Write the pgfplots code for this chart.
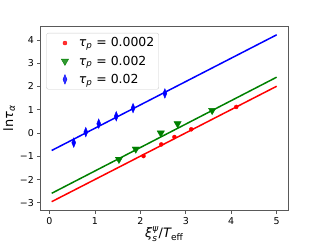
\documentclass[border=0pt]{standalone}
\usepackage{amsmath}
\usepackage{fontspec}
\setmainfont{DejaVu Sans}
\usepackage{pgfplots}
\pgfplotsset{compat=1.18}
\definecolor{mplgreen}{rgb}{0,0.5,0}
\pgfplotsset{mylegimg/.style={legend image code/.code={
  \path[draw=none,fill=none] (0bp,0bp) -- (28bp,0bp);
  \draw[##1,only marks] plot coordinates {(16bp,0bp)};}}}
\begin{document}
\begin{tikzpicture}
\begin{axis}[
  at={(0,0)}, anchor=south west,
  scale only axis, width=248bp, height=185bp,
  xmin=-0.2, xmax=5.25, ymin=-3.34, ymax=4.6,
  axis line style={black!65, line width=0.7bp},
  tick align=outside, tick pos=left,
  major tick length=3bp,
  every tick/.style={black!65, line width=0.7bp},
  xtick={0,1,2,3,4,5},
  xticklabels={0,1,2,3,4,5},
  ytick={-3,-2,-1,0,1,2,3,4},
  yticklabels={−3,−2,−1,0,1,2,3,4},
  tick label style={font=\fontsize{9.5}{11}\selectfont},
  xlabel={$\text{\itshape ξ}^{\text{\itshape ψ}}_{\text{\itshape s}}\text{/}\text{\itshape T}_{\text{eff}}$},
  ylabel={ln{\itshape τ\textsubscript{α}}},
  label style={font=\fontsize{13}{15}\selectfont},
  xlabel style={yshift=5pt},
  ylabel style={yshift=-2pt},
  legend style={at={(0.024,0.962)}, anchor=north west, draw=black!20,
    rounded corners=2pt, fill=white, fill opacity=0.8, text opacity=1,
    font=\fontsize{12.5}{14}\selectfont, row sep=3.5pt, inner sep=2.5pt},
  legend cell align=left,
]
\addplot[color=red, line width=1.5bp, forget plot] coordinates {(0.05,-2.95) (5,2.01)};
\addplot[color=mplgreen, line width=1.5bp, forget plot] coordinates {(0.05,-2.59) (5,2.40)};
\addplot[color=blue, line width=1.5bp, forget plot] coordinates {(0.05,-0.75) (5,4.22)};
\addplot[only marks, mark=*, color=red, mark size=2bp, mylegimg] coordinates {
 (2.07,-0.99) (2.46,-0.49) (2.75,-0.17) (3.12,0.16) (4.11,1.12)};
\addlegendentry{{\itshape τ\textsubscript{p}} = 0.0002}
\addplot[only marks, mark=triangle*, mark options={rotate=180}, color=mplgreen, mark size=4.2bp, mylegimg] coordinates {
 (1.53,-1.13) (1.90,-0.69) (2.45,0.00) (2.82,0.40) (3.58,0.97)};
\addlegendentry{{\itshape τ\textsubscript{p}} = 0.002}
\addplot[only marks, mark=diamond*, mark options={xscale=0.55}, color=blue, mark size=4.8bp, mylegimg] coordinates {
 (0.535,-0.415) (0.80,0.04) (1.085,0.40) (1.47,0.72) (1.84,1.07) (2.54,1.70)};
\addlegendentry{{\itshape τ\textsubscript{p}} = 0.02}
\end{axis}
\path[use as bounding box] (-40bp,-29bp) rectangle (280bp,211bp);
\end{tikzpicture}
\end{document}
